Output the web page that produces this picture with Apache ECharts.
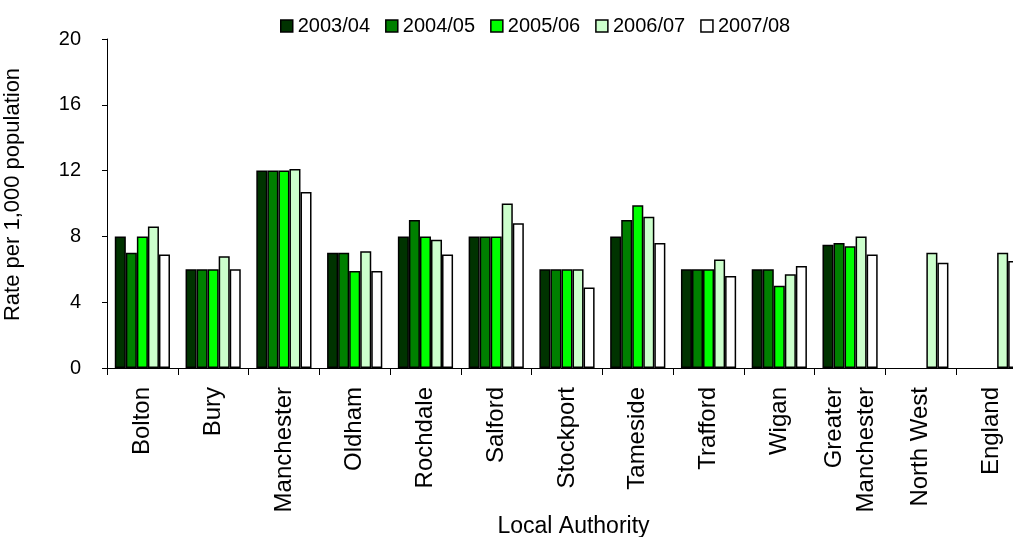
<!DOCTYPE html>
<html>
<head>
<meta charset="utf-8">
<script src="https://cdn.jsdelivr.net/npm/echarts@6/dist/echarts.min.js"></script>
<style>
  html, body { margin: 0; padding: 0; background: #ffffff; }
  #chart { width: 1013px; height: 537px; }
</style>
</head>
<body>
<div id="chart"></div>
<script>
// Local authorities shown along the x axis
const categories = ['Bolton', 'Bury', 'Manchester', 'Oldham', 'Rochdale', 'Salford',
  'Stockport', 'Tameside', 'Trafford', 'Wigan', 'Greater\nManchester', 'North West', 'England'];

// Rate per 1,000 population, one array per year
const years = ['2003/04', '2004/05', '2005/06', '2006/07', '2007/08'];
const rate0304 = [8.0, 6.0, 12.0, 7.0, 8.0, 8.0, 6.0, 8.0, 6.0, 6.0, 7.5, null, null];
const rate0405 = [7.0, 6.0, 12.0, 7.0, 9.0, 8.0, 6.0, 9.0, 6.0, 6.0, 7.6, null, null];
const rate0506 = [8.0, 6.0, 12.0, 5.9, 8.0, 8.0, 6.0, 9.9, 6.0, 5.0, 7.4, null, null];
const rate0607 = [8.6, 6.8, 12.1, 7.1, 7.8, 10.0, 6.0, 9.2, 6.6, 5.7, 8.0, 7.0, 7.0];
const rate0708 = [6.9, 6.0, 10.7, 5.9, 6.9, 8.8, 4.9, 7.6, 5.6, 6.2, 6.9, 6.4, 6.5];

// Y axis range
const yMin = 0, yMax = 20, yStep = 4;

const seriesValues = [rate0304, rate0405, rate0506, rate0607, rate0708];
const seriesColors = ['#003300', '#008000', '#00ff00', '#ccffcc', '#ffffff'];

const FONT = '"Liberation Sans", Arial, sans-serif';

const chart = echarts.init(document.getElementById('chart'), null, { renderer: 'canvas' });

chart.setOption({
  animation: false,
  backgroundColor: '#ffffff',
  textStyle: { fontFamily: FONT, color: '#000' },
  legend: {
    data: years,
    left: 275,
    top: 11,
    icon: 'rect',
    itemWidth: 12,
    itemHeight: 12,
    itemGap: 15,
    itemStyle: { borderColor: '#000', borderWidth: 1.5 },
    textStyle: { fontFamily: FONT, fontSize: 20, color: '#000' }
  },
  grid: { left: 107, right: -14, top: 39, bottom: 169, containLabel: false, outerBoundsMode: 'none' },
  xAxis: {
    type: 'category',
    data: categories,
    name: 'Local Authority',
    nameLocation: 'middle',
    nameGap: 147,
    nameMoveOverlap: false,
    nameTextStyle: { fontFamily: FONT, fontSize: 23, color: '#000', padding: [0, 0, 0, 13] },
    axisLine: { show: true, lineStyle: { color: '#000', width: 1 } },
    axisTick: { show: true, length: 7, lineStyle: { color: '#000' } },
    axisLabel: {
      interval: 0,
      rotate: 90,
      margin: 19,
      fontFamily: FONT,
      fontSize: 24,
      lineHeight: 32,
      color: '#000'
    },
    splitLine: { show: false }
  },
  yAxis: {
    type: 'value',
    min: yMin,
    max: yMax,
    interval: yStep,
    name: 'Rate per 1,000 population',
    nameLocation: 'middle',
    nameRotate: 90,
    nameGap: 83,
    nameMoveOverlap: false,
    nameTextStyle: { fontFamily: FONT, fontSize: 22, color: '#000', padding: [0, 0, 0, 18] },
    axisLine: { show: true, lineStyle: { color: '#000', width: 1 } },
    axisTick: { show: true, inside: false, length: 5, lineStyle: { color: '#000' } },
    axisLabel: { margin: 26, fontFamily: FONT, fontSize: 20, color: '#000' },
    splitLine: { show: false }
  },
  series: years.map((y, i) => ({
    name: y,
    type: 'bar',
    data: seriesValues[i],
    barGap: '0%',
    barCategoryGap: '22%',
    itemStyle: { color: seriesColors[i], borderColor: '#000', borderWidth: 1.5 }
  }))
});
</script>
</body>
</html>
